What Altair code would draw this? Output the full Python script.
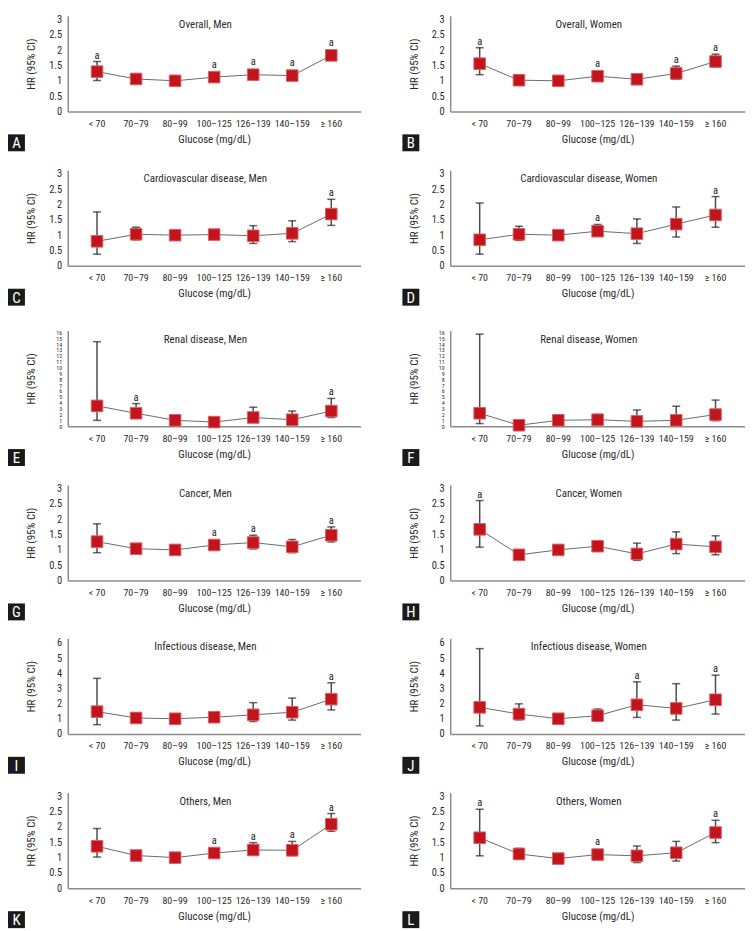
import altair as alt
import pandas as pd

CATS = ["< 70", "70–79", "80–99", "100–125", "126–139", "140–159", "≥ 160"]

# ---- panel titles / letters
LETTERS = ["A", "B", "C", "D", "E", "F", "G", "H", "I", "J", "K", "L"]
TITLES = ["Overall, Men", "Overall, Women",
          "Cardiovascular disease, Men", "Cardiovascular disease, Women",
          "Renal disease, Men", "Renal disease, Women",
          "Cancer, Men", "Cancer, Women",
          "Infectious disease, Men", "Infectious disease, Women",
          "Others, Men", "Others, Women"]

# ---- hazard ratios, lower / upper 95% CI, significance flags ("a")
A_hr = [1.30, 1.06, 1.00, 1.12, 1.20, 1.17, 1.83]
A_lo = [1.01, 1.01, 1.00, 1.07, 1.12, 1.10, 1.72]
A_hi = [1.63, 1.12, 1.00, 1.18, 1.33, 1.26, 1.98]
A_sig = [1, 0, 0, 1, 1, 1, 1]

B_hr = [1.56, 1.02, 1.00, 1.15, 1.05, 1.24, 1.63]
B_lo = [1.20, 0.96, 1.00, 1.08, 0.91, 1.05, 1.46]
B_hi = [2.08, 1.08, 1.00, 1.22, 1.23, 1.48, 1.87]
B_sig = [1, 0, 0, 1, 0, 1, 1]

C_hr = [0.80, 1.03, 1.00, 1.02, 0.98, 1.06, 1.69]
C_lo = [0.38, 0.85, 1.00, 0.93, 0.73, 0.79, 1.32]
C_hi = [1.76, 1.26, 1.00, 1.12, 1.31, 1.47, 2.17]
C_sig = [0, 0, 0, 0, 0, 0, 1]

D_hr = [0.85, 1.03, 1.00, 1.13, 1.05, 1.36, 1.66]
D_lo = [0.38, 0.83, 1.00, 1.00, 0.73, 0.94, 1.26]
D_hi = [2.05, 1.29, 1.00, 1.35, 1.53, 1.92, 2.26]
D_sig = [0, 0, 0, 1, 0, 0, 1]

E_hr = [3.46, 2.20, 1.00, 0.70, 1.48, 1.10, 2.58]
E_lo = [0.99, 1.43, 1.00, 0.45, 0.90, 0.60, 1.48]
E_hi = [14.4, 3.85, 1.00, 1.05, 3.24, 2.58, 4.73]
E_sig = [0, 1, 0, 0, 0, 0, 1]

F_hr = [2.20, 0.16, 1.00, 1.10, 0.82, 1.00, 1.98]
F_lo = [0.44, 0.05, 1.00, 0.60, 0.30, 0.40, 0.93]
F_hi = [15.7, 0.99, 1.00, 1.98, 2.75, 3.40, 4.45]
F_sig = [0, 0, 0, 0, 0, 0, 0]

G_hr = [1.27, 1.04, 1.00, 1.16, 1.24, 1.10, 1.48]
G_lo = [0.91, 0.97, 1.00, 1.09, 1.03, 0.91, 1.26]
G_hi = [1.85, 1.15, 1.00, 1.24, 1.48, 1.34, 1.75]
G_sig = [0, 0, 0, 1, 1, 0, 1]

H_hr = [1.67, 0.84, 1.00, 1.12, 0.87, 1.19, 1.10]
H_lo = [1.09, 0.74, 1.00, 1.03, 0.66, 0.88, 0.84]
H_hi = [2.61, 0.97, 1.00, 1.22, 1.22, 1.59, 1.46]
H_sig = [1, 0, 0, 0, 0, 0, 0]

I_hr = [1.47, 1.05, 1.00, 1.10, 1.26, 1.43, 2.29]
I_lo = [0.61, 0.85, 1.00, 0.98, 0.82, 0.91, 1.58]
I_hi = [3.66, 1.39, 1.00, 1.40, 2.06, 2.36, 3.37]
I_sig = [0, 0, 0, 0, 0, 0, 1]

J_hr = [1.75, 1.31, 1.00, 1.20, 1.92, 1.68, 2.25]
J_lo = [0.53, 0.93, 1.00, 0.90, 1.09, 0.91, 1.31]
J_hi = [5.62, 1.98, 1.00, 1.64, 3.43, 3.31, 3.87]
J_sig = [0, 0, 0, 0, 1, 0, 1]

K_hr = [1.37, 1.07, 1.00, 1.15, 1.25, 1.24, 2.09]
K_lo = [1.02, 1.01, 1.00, 1.08, 1.08, 1.07, 1.86]
K_hi = [1.95, 1.13, 1.00, 1.22, 1.49, 1.53, 2.44]
K_sig = [0, 0, 0, 1, 1, 1, 1]

L_hr = [1.65, 1.12, 0.97, 1.10, 1.06, 1.16, 1.82]
L_lo = [1.06, 0.95, 0.97, 1.03, 0.84, 0.89, 1.49]
L_hi = [2.58, 1.30, 0.97, 1.22, 1.38, 1.53, 2.22]
L_sig = [1, 0, 0, 1, 0, 0, 1]

# y-axis settings per row
TICKS_3 = [0, 0.5, 1, 1.5, 2, 2.5, 3]
TICKS_16 = list(range(0, 17))
TICKS_6 = [0, 1, 2, 3, 4, 5, 6]

PANELS = [
    (A_hr, A_lo, A_hi, A_sig, 3.12, TICKS_3),
    (B_hr, B_lo, B_hi, B_sig, 3.12, TICKS_3),
    (C_hr, C_lo, C_hi, C_sig, 3.12, TICKS_3),
    (D_hr, D_lo, D_hi, D_sig, 3.12, TICKS_3),
    (E_hr, E_lo, E_hi, E_sig, 16.3, TICKS_16),
    (F_hr, F_lo, F_hi, F_sig, 16.3, TICKS_16),
    (G_hr, G_lo, G_hi, G_sig, 3.12, TICKS_3),
    (H_hr, H_lo, H_hi, H_sig, 3.12, TICKS_3),
    (I_hr, I_lo, I_hi, I_sig, 6.3, TICKS_6),
    (J_hr, J_lo, J_hi, J_sig, 6.3, TICKS_6),
    (K_hr, K_lo, K_hi, K_sig, 3.12, TICKS_3),
    (L_hr, L_lo, L_hi, L_sig, 3.12, TICKS_3),
]

FONT = "Roboto Condensed, Noto Sans Condensed, Liberation Sans Narrow, Liberation Sans, sans-serif"
TXT = "#2b2b2b"
BAR = "#4d4d4d"
LINE = "#6b6b6b"
SQ_FILL = "#C1141D"
SQ_STROKE = "#DD5E63"
AXIS_C = "#8c8c8c"

H = 96


def make_panel(letter, title, hr, lo, hi, sig, ymax, yticks, W, box_x):
    df = pd.DataFrame({"cat": CATS, "hr": hr, "lo": lo, "hi": hi,
                       "sig": ["a" if s else "" for s in sig]})
    half = 6.5 * ymax / H
    df["lab"] = [max(h, r + half) for h, r in zip(hi, hr)]

    small = len(yticks) > 10
    xenc = alt.X("cat:N", sort=CATS,
                 scale=alt.Scale(domain=CATS, padding=0.5),
                 axis=alt.Axis(title="Glucose (mg/dL)", labelAngle=0, ticks=False,
                               grid=False, labelPadding=7, titlePadding=5,
                               labelFontSize=10))
    ysc = alt.Scale(domain=[0, ymax], nice=False, zero=True)
    yax = alt.Axis(title="HR (95% CI)", values=yticks, format="~g", ticks=False,
                   grid=False, labelPadding=6, labelOverlap=False,
                   labelFontSize=6 if small else 10.5,
                   titleX=-36, titleY=H / 2, titleBaseline="middle",
                   titleAngle=-90)

    base = alt.Chart(df).encode(x=xenc)
    rule = base.mark_rule(color=BAR, strokeWidth=1.5).encode(
        y=alt.Y("lo:Q", scale=ysc, axis=yax), y2="hi:Q")
    cap_hi = base.mark_tick(color="#222222", size=8, thickness=1.5,
                            orient="horizontal").encode(
        y=alt.Y("hi:Q", scale=ysc, axis=yax))
    cap_lo = base.mark_tick(color="#222222", size=8, thickness=1.5,
                            orient="horizontal").encode(
        y=alt.Y("lo:Q", scale=ysc, axis=yax))
    line = base.mark_line(color=LINE, strokeWidth=1).encode(
        y=alt.Y("hr:Q", scale=ysc, axis=yax))
    pts = base.mark_point(shape="square", filled=True, size=135, fill=SQ_FILL,
                          stroke=SQ_STROKE, strokeWidth=1, opacity=1).encode(
        y=alt.Y("hr:Q", scale=ysc, axis=yax))
    sigt = base.mark_text(baseline="alphabetic", dy=-3, fontSize=10.5,
                          color="#222222").encode(
        y=alt.Y("lab:Q", scale=ysc, axis=yax), text="sig:N")

    meta = alt.Chart(pd.DataFrame({"letter": [letter], "title": [title]}))
    ttl = meta.mark_text(fontSize=11, color=TXT, baseline="middle").encode(
        x=alt.value(W * 0.47), y=alt.value(9), text="title:N")
    box = meta.mark_rect(color="#1a1a1a").encode(
        x=alt.value(box_x), x2=alt.value(box_x + 17),
        y=alt.value(H + 23), y2=alt.value(H + 40))
    let = meta.mark_text(color="white", fontSize=15, baseline="middle",
                         align="center").encode(
        x=alt.value(box_x + 8.5), y=alt.value(H + 32), text="letter:N")

    return alt.layer(rule, cap_hi, cap_lo, line, pts, sigt, ttl, box, let).properties(
        width=W, height=H)


rows = []
for r in range(6):
    i, j = 2 * r, 2 * r + 1
    left = make_panel(LETTERS[i], TITLES[i], *PANELS[i], W=294, box_x=-60)
    right = make_panel(LETTERS[j], TITLES[j], *PANELS[j], W=296, box_x=-48)
    rows.append(alt.hconcat(left, right, spacing=42))

chart = alt.vconcat(*rows, spacing=17).properties(
    padding={"left": 0, "top": 4, "right": 0, "bottom": 0}
).configure_view(stroke=None).configure_axis(
    domainColor=AXIS_C, domainWidth=1.5,
    labelFont=FONT, titleFont=FONT, labelColor=TXT, titleColor=TXT,
    labelFontSize=10, titleFontSize=11, titleFontWeight="normal"
).configure_text(font=FONT)

chart.save("out.html", embed_options={"renderer": "svg", "actions": False})
